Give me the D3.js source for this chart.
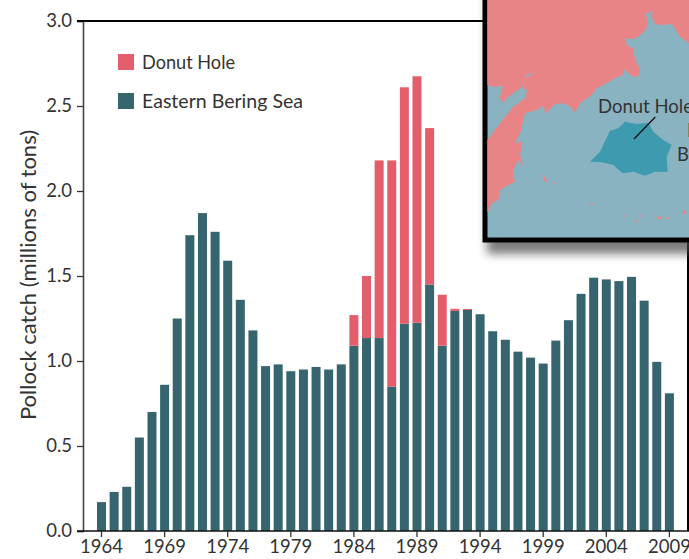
<!DOCTYPE html>
<html>
<head>
<meta charset="utf-8">
<script src="https://cdn.jsdelivr.net/npm/d3@7"></script>
<style>
  html, body { margin: 0; padding: 0; background: #fff; overflow: hidden; }
  text { font-family: Lato, "Open Sans", sans-serif; fill: #333; }
</style>
</head>
<body>
<div id="chart"></div>
<script>
// values, millions of tons
const years = d3.range(1964, 2010);
const eastern = [0.17, 0.23, 0.26, 0.55, 0.70, 0.86, 1.25, 1.74, 1.87, 1.76,
  1.59, 1.36, 1.18, 0.97, 0.98, 0.94, 0.95, 0.965, 0.95, 0.98,
  1.09, 1.135, 1.135, 0.85, 1.22, 1.225, 1.45, 1.09, 1.295, 1.30,
  1.275, 1.175, 1.125, 1.055, 1.02, 0.985, 1.12, 1.24, 1.395, 1.49,
  1.48, 1.47, 1.495, 1.355, 0.995, 0.81];
const donut = [0, 0, 0, 0, 0, 0, 0, 0, 0, 0,
  0, 0, 0, 0, 0, 0, 0, 0, 0, 0,
  0.18, 0.365, 1.045, 1.33, 1.39, 1.45, 0.92, 0.30, 0.012, 0.006,
  0, 0, 0, 0, 0, 0, 0, 0, 0, 0,
  0, 0, 0, 0, 0, 0];
const yTicks = [0, 0.5, 1, 1.5, 2, 2.5, 3];
const xTicks = d3.range(1964, 2010, 5);
const legendNames = ['Donut Hole', 'Eastern Bering Sea'];

// inset map outlines, traced in a 627 x 780 grid
const land = [[22,0],[627,0],[627,130],[600,110],[585,85],[575,72],[545,75],[525,72],[512,45],[522,33],[497,42],[505,65],[498,88],[475,110],[455,118],[437,115],[440,135],[460,145],[462,165],[470,190],[480,205],[478,225],[465,232],[445,220],[432,208],[428,225],[410,232],[380,250],[350,265],[335,285],[300,310],[285,338],[272,320],[250,310],[225,312],[195,342],[192,316],[170,330],[135,340],[122,395],[105,430],[128,425],[120,465],[130,498],[115,480],[98,515],[105,545],[85,555],[60,570],[55,600],[35,610],[22,640],[22,420],[60,370],[100,320],[135,295],[142,268],[128,268],[135,235],[165,218],[140,225],[125,262],[85,290],[65,310],[60,290],[68,255],[45,262],[22,255]];
const okhotskInlet = [[135,395],[160,372],[155,388],[138,398]];
const hole = [[330,485],[360,455],[390,392],[415,385],[435,365],[470,372],[505,368],[520,395],[550,420],[575,435],[560,470],[563,515],[525,515],[495,527],[460,515],[428,520],[400,495],[365,487]];
const islands = [
  [[186,525],[195,530],[203,547],[195,545]],
  [[220,545],[230,552],[225,555]],
  [[326,611],[343,612],[335,617]],
  [[430,648],[438,642],[436,650]],
  [[460,657],[476,666],[468,667]],
  [[528,648],[550,654],[535,658]],
  [[558,648],[566,656],[558,658]],
  [[605,642],[615,630],[616,642]],
  [[476,648],[483,645],[482,651]]
];

const width = 689;
const height = 559;
const margin = { top: 21, right: 13, bottom: 28, left: 83 };

const svg = d3.select('#chart').append('svg')
  .attr('width', width)
  .attr('height', height)
  .style('display', 'block');

const defs = svg.append('defs');
defs.append('filter').attr('id', 'soft')
  .attr('x', '-20%').attr('y', '-20%').attr('width', '140%').attr('height', '140%')
  .append('feGaussianBlur').attr('stdDeviation', 5);
defs.append('clipPath').attr('id', 'inset-clip')
  .append('rect').attr('x', 487).attr('y', 0).attr('width', 202).attr('height', 237);

const x = d3.scaleBand()
  .domain(years)
  .range([95.2, 675.7])
  .paddingInner(0.287)
  .paddingOuter(0.1435);

const y = d3.scaleLinear()
  .domain([0, 3])
  .range([height - margin.bottom, margin.top]);

// bars
const stackRows = years.map((yr, i) => ({ year: yr, eastern: eastern[i], donut: donut[i] }));
const stacked = d3.stack().keys(['eastern', 'donut'])(stackRows);
const colors = { eastern: '#36656f', donut: '#e35d6a' };

svg.append('g').selectAll('g')
  .data(stacked)
  .join('g')
  .attr('fill', d => colors[d.key])
  .selectAll('rect')
  .data(d => d)
  .join('rect')
  .attr('x', d => x(d.data.year))
  .attr('y', d => y(d[1]))
  .attr('width', x.bandwidth())
  .attr('height', d => y(d[0]) - y(d[1]));

// y axis
const yAxis = svg.append('g')
  .attr('transform', `translate(${margin.left},0)`)
  .call(d3.axisLeft(y).tickValues(yTicks).tickFormat(d3.format('.1f')).tickSize(6).tickPadding(5));
yAxis.select('.domain').attr('stroke', '#444').attr('stroke-width', 1.6);
yAxis.selectAll('.tick line').attr('stroke', '#333').attr('stroke-width', 1.3);
yAxis.selectAll('text').style('font-size', '18.5px').attr('fill', '#333');

// x axis
const xAxis = svg.append('g')
  .attr('transform', `translate(0,${y(0)})`)
  .call(d3.axisBottom(x).tickValues(xTicks).tickSize(6).tickPadding(3));
xAxis.select('.domain').attr('d', `M77,0H${width}`).attr('stroke', '#111').attr('stroke-width', 1.6);
xAxis.selectAll('.tick line').attr('stroke', '#333').attr('stroke-width', 1.3);
xAxis.selectAll('text').style('font-size', '18.5px').attr('fill', '#333');

// frame: top and right rules
svg.append('path')
  .attr('d', `M77,${y(3)}H487`)
  .attr('stroke', '#000').attr('stroke-width', 2).attr('fill', 'none');
svg.append('path')
  .attr('d', `M688,240V${y(0)}`)
  .attr('stroke', '#000').attr('stroke-width', 2).attr('fill', 'none');

svg.append('text')
  .attr('transform', `translate(36,275) rotate(-90)`)
  .attr('text-anchor', 'middle')
  .style('font-size', '22px')
  .text('Pollock catch (millions of tons)');

// legend
const legendLengths = [93, 161];
const legend = svg.append('g');
legendNames.forEach((name, i) => {
  const row = legend.append('g').attr('transform', `translate(118,${54 + i * 39})`);
  row.append('rect').attr('width', 16).attr('height', 16)
    .attr('fill', i === 0 ? colors.donut : colors.eastern);
  row.append('text').attr('x', 24).attr('y', 14.5)
    .attr('textLength', legendLengths[i])
    .attr('lengthAdjust', 'spacingAndGlyphs')
    .style('font-size', '20px').text(name);
});

// inset map
const mx = d3.scaleLinear().domain([0, 627]).range([480, 689]);
const my = d3.scaleLinear().domain([0, 780]).range([0, 260]);
const outline = d3.line().x(d => mx(d[0])).y(d => my(d[1])).curve(d3.curveLinearClosed);

svg.append('rect')
  .attr('x', 487).attr('y', -10).attr('width', 230).attr('height', 264)
  .attr('fill', '#444').attr('opacity', 0.7).attr('filter', 'url(#soft)');
svg.append('rect')
  .attr('x', 485).attr('y', -5).attr('width', 210).attr('height', 245)
  .attr('fill', '#8ab3c1').attr('stroke', '#000').attr('stroke-width', 5);

const map = svg.append('g').attr('clip-path', 'url(#inset-clip)');
map.append('path').attr('d', outline(land)).attr('fill', '#e98486');
map.append('path').attr('d', outline(okhotskInlet)).attr('fill', '#8ab3c1');
map.selectAll('.island').data(islands).join('path')
  .attr('class', 'island').attr('d', outline).attr('fill', '#e98486');
map.append('path').attr('d', outline(hole)).attr('fill', '#3e9aae');
map.append('path')
  .attr('d', d3.line().x(d => mx(d[0])).y(d => my(d[1]))([[462,417],[526,351]]))
  .attr('stroke', '#111').attr('stroke-width', 1.3).attr('fill', 'none');
map.append('text').attr('x', 598).attr('y', 113).style('font-size', '18.5px').text('Donut Hole');
map.append('text').attr('x', 687).attr('y', 137).style('font-size', '18.5px').text('Eastern');
map.append('text').attr('x', 677).attr('y', 161).style('font-size', '18.5px').text('Bering Sea');
</script>
</body>
</html>
